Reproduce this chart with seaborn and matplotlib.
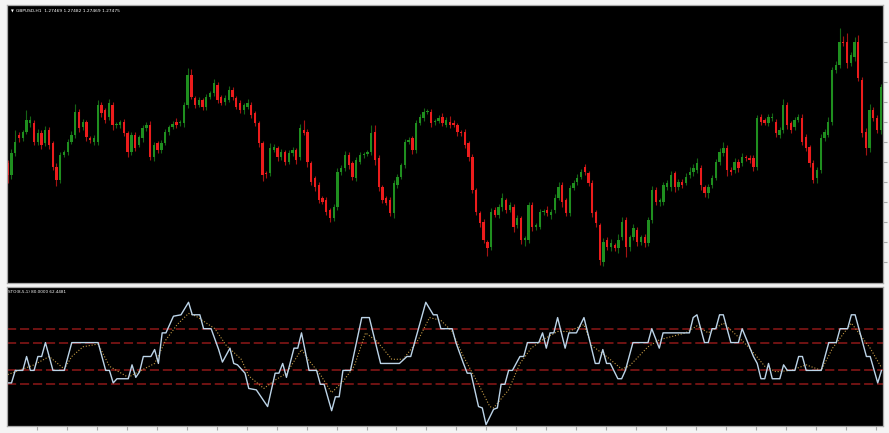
import numpy as np
import pandas as pd
import matplotlib
matplotlib.use("Agg")
import matplotlib.pyplot as plt
import seaborn as sns

# GBPUSD H1 candles, prices in points (1 point = 0.0001)
open_pts = [
    12717, 12705, 12727, 12745, 12742, 12748, 12757, 12757, 12738, 12747,
    12737, 12750, 12737, 12713, 12700, 12725, 12728, 12738, 12745, 12768,
    12753, 12758, 12742, 12738, 12738, 12775, 12770, 12763, 12775, 12755,
    12755, 12758, 12747, 12728, 12745, 12735, 12742, 12752, 12755, 12723,
    12737, 12730, 12737, 12748, 12753, 12758, 12757, 12757, 12775, 12805,
    12782, 12775, 12780, 12773, 12783, 12787, 12795, 12783, 12778, 12780,
    12790, 12782, 12777, 12770, 12773, 12775, 12767, 12757, 12737, 12707,
    12707, 12730, 12732, 12723, 12728, 12718, 12727, 12730, 12723, 12750,
    12748, 12717, 12702, 12695, 12682, 12680, 12670, 12662, 12673, 12708,
    12712, 12725, 12717, 12702, 12718, 12725, 12726, 12728, 12748, 12722,
    12693, 12682, 12680, 12667, 12695, 12703, 12715, 12738, 12742, 12730,
    12757, 12762, 12768, 12768, 12758, 12759, 12763, 12755, 12758, 12757,
    12755, 12748, 12748, 12737, 12723, 12690, 12667, 12658, 12638, 12633,
    12670, 12665, 12673, 12680, 12670, 12673, 12655, 12662, 12640, 12640,
    12675, 12653, 12653, 12668, 12670, 12665, 12670, 12682, 12695, 12680,
    12667, 12692, 12698, 12703, 12713, 12707, 12697, 12668, 12655, 12618,
    12640, 12633, 12635, 12632, 12643, 12660, 12633, 12643, 12650, 12638,
    12643, 12637, 12660, 12690, 12678, 12678, 12693, 12693, 12707, 12693,
    12698, 12697, 12705, 12708, 12710, 12712, 12693, 12687, 12695, 12702,
    12718, 12727, 12732, 12710, 12710, 12718, 12717, 12723, 12722, 12722,
    12713, 12763, 12760, 12757, 12762, 12758, 12745, 12750, 12775, 12757,
    12753, 12760, 12762, 12743, 12733, 12717, 12702, 12710, 12742, 12745,
    12758, 12810, 12815, 12838, 12838, 12817, 12823, 12838, 12800, 12748,
    12732, 12770, 12762, 12750,
]
close_pts = [
    12705, 12727, 12738, 12742, 12748, 12760, 12760, 12738, 12747, 12735,
    12750, 12735, 12713, 12700, 12725, 12728, 12738, 12745, 12768, 12752,
    12758, 12743, 12740, 12742, 12775, 12767, 12760, 12777, 12755, 12756,
    12758, 12747, 12728, 12745, 12732, 12743, 12752, 12755, 12723, 12735,
    12730, 12737, 12748, 12753, 12756, 12755, 12758, 12775, 12805, 12783,
    12775, 12780, 12773, 12783, 12787, 12797, 12780, 12777, 12782, 12790,
    12783, 12773, 12770, 12775, 12777, 12765, 12757, 12737, 12705, 12706,
    12732, 12733, 12723, 12728, 12718, 12727, 12730, 12720, 12752, 12747,
    12718, 12698, 12693, 12680, 12678, 12668, 12662, 12673, 12708, 12712,
    12725, 12715, 12703, 12720, 12725, 12726, 12728, 12747, 12720, 12693,
    12680, 12677, 12667, 12697, 12703, 12715, 12738, 12740, 12730, 12757,
    12763, 12768, 12769, 12757, 12759, 12762, 12757, 12760, 12755, 12755,
    12748, 12747, 12735, 12723, 12690, 12668, 12657, 12640, 12632, 12668,
    12665, 12673, 12682, 12670, 12675, 12653, 12662, 12640, 12642, 12675,
    12653, 12655, 12668, 12669, 12667, 12668, 12682, 12693, 12678, 12667,
    12692, 12697, 12702, 12708, 12708, 12697, 12667, 12657, 12620, 12638,
    12633, 12637, 12632, 12640, 12658, 12633, 12643, 12652, 12638, 12643,
    12637, 12660, 12690, 12678, 12680, 12695, 12697, 12705, 12693, 12698,
    12695, 12703, 12708, 12712, 12717, 12695, 12687, 12693, 12702, 12718,
    12728, 12732, 12710, 12708, 12718, 12712, 12723, 12722, 12720, 12713,
    12762, 12758, 12757, 12763, 12763, 12747, 12750, 12775, 12755, 12750,
    12760, 12763, 12738, 12732, 12717, 12700, 12710, 12742, 12748, 12758,
    12810, 12815, 12838, 12837, 12817, 12825, 12838, 12802, 12747, 12732,
    12770, 12762, 12750, 12793,
]
# wick lengths above / below the body, in points
upper_wick = [
    3, 4, 12, 3, 2, 10, 4, 3, 4, 3, 4, 3, 2, 4, 3, 2, 3, 4, 8, 3,
    3, 2, 2, 3, 5, 3, 2, 4, 3, 2, 2, 3, 2, 3, 3, 2, 3, 3, 4, 3,
    2, 3, 3, 2, 3, 4, 2, 3, 7, 6, 2, 3, 2, 3, 2, 4, 3, 2, 3, 4,
    3, 2, 3, 2, 4, 3, 2, 2, 2, 2, 5, 3, 2, 3, 2, 3, 3, 2, 4, 10,
    3, 2, 2, 3, 2, 3, 2, 3, 4, 3, 4, 3, 2, 3, 3, 2, 2, 8, 7, 3,
    2, 2, 3, 3, 3, 2, 3, 3, 2, 3, 3, 4, 2, 3, 2, 3, 4, 3, 6, 3,
    2, 2, 3, 2, 3, 2, 2, 3, 2, 4, 3, 3, 5, 2, 3, 3, 3, 2, 2, 3,
    3, 2, 3, 2, 4, 3, 4, 5, 3, 2, 3, 3, 4, 3, 3, 2, 3, 2, 2, 4,
    3, 4, 2, 6, 5, 3, 2, 4, 3, 2, 3, 3, 4, 3, 2, 3, 3, 4, 2, 3,
    3, 4, 5, 4, 5, 3, 2, 3, 3, 3, 4, 6, 3, 3, 4, 3, 4, 2, 3, 3,
    3, 3, 2, 3, 4, 3, 3, 6, 3, 2, 3, 3, 4, 3, 2, 3, 3, 4, 3, 5,
    3, 4, 14, 6, 9, 3, 5, 7, 3, 4, 6, 3, 3, 3,
]
lower_wick = [
    8, 4, 3, 4, 3, 2, 4, 3, 3, 4, 3, 4, 3, 6, 3, 2, 3, 2, 3, 4,
    3, 4, 3, 3, 3, 4, 3, 3, 5, 3, 3, 3, 5, 3, 3, 2, 4, 3, 3, 4,
    3, 3, 2, 3, 2, 3, 3, 4, 3, 2, 3, 2, 3, 3, 2, 3, 3, 2, 3, 2,
    3, 2, 3, 4, 2, 3, 3, 4, 6, 4, 3, 2, 4, 3, 3, 2, 3, 4, 3, 2,
    5, 3, 4, 3, 2, 3, 4, 3, 3, 3, 3, 4, 3, 3, 2, 3, 2, 3, 5, 4,
    3, 2, 3, 5, 3, 2, 3, 2, 4, 3, 2, 3, 2, 4, 3, 2, 3, 2, 3, 2,
    4, 3, 3, 4, 3, 3, 4, 3, 8, 3, 2, 3, 4, 3, 2, 5, 3, 4, 6, 3,
    4, 3, 2, 3, 3, 4, 3, 2, 5, 3, 3, 2, 3, 2, 3, 3, 4, 4, 5, 4,
    3, 4, 3, 5, 3, 10, 4, 3, 4, 3, 4, 3, 3, 3, 4, 3, 3, 4, 5, 3,
    3, 2, 3, 4, 3, 5, 4, 5, 3, 2, 3, 3, 6, 3, 3, 4, 3, 3, 3, 4,
    3, 3, 2, 3, 3, 4, 3, 3, 4, 3, 3, 2, 3, 3, 4, 3, 5, 3, 3, 2,
    3, 3, 3, 3, 5, 3, 4, 3, 4, 7, 4, 3, 3, 4,
]

# stochastic main line (%K) vertices: bar index, value
k_bar = [0, 1, 2, 4, 5, 6, 7, 8, 9, 10, 12, 15, 17, 24, 26, 27, 28, 29, 32, 33,
         34, 35, 36, 38, 39, 40, 41, 42, 44, 46, 48, 49, 51, 52, 54, 56, 57, 59, 60, 61,
         63, 64, 66, 67, 69, 71, 72, 73, 74, 76, 77, 78, 80, 82, 83, 84, 86, 87, 88, 89,
         91, 94, 96, 99, 104, 106, 107, 111, 113, 114, 115, 118, 119, 121, 122, 123, 125, 126, 127, 129,
         130, 131, 132, 133, 134, 136, 137, 138, 141, 142, 143, 144, 145, 146, 148, 149, 151, 153, 156, 157,
         158, 159, 160, 162, 163, 164, 166, 170, 171, 173, 174, 181, 182, 183, 185, 186, 187, 188, 189, 190,
         192, 194, 195, 198, 199, 200, 201, 202, 203, 205, 206, 207, 209, 210, 211, 212, 216, 218, 220, 221,
         223, 224, 225, 228, 229, 231, 232]
k_val = [31, 31, 40, 40, 50, 40, 40, 50, 50, 60, 40, 40, 60, 60, 40, 40, 31, 34, 34, 44,
         35, 39, 50, 50, 55, 45, 67, 67, 79, 80, 89, 80, 80, 70, 70, 55, 46, 56, 45, 44,
         38, 27, 26, 22, 14, 38, 38, 45, 35, 56, 56, 67, 40, 40, 30, 30, 11, 21, 21, 40,
         40, 78, 78, 45, 45, 50, 50, 89, 80, 80, 70, 70, 60, 45, 38, 38, 14, 13, 1, 12,
         13, 30, 30, 40, 40, 50, 50, 60, 60, 67, 56, 67, 67, 78, 56, 67, 67, 78, 45, 45,
         55, 45, 45, 34, 34, 40, 60, 60, 70, 56, 67, 67, 78, 80, 60, 60, 70, 70, 80, 80,
         60, 60, 70, 50, 45, 34, 34, 45, 34, 34, 44, 40, 40, 50, 50, 40, 40, 60, 60, 70,
         70, 80, 80, 50, 50, 31, 40]
# signal line (%D) vertices
d_bar = [0, 3, 7, 11, 15, 17, 20, 24, 27, 32, 34, 39, 42, 45, 48, 50, 55, 58, 62, 64,
         68, 71, 74, 78, 80, 83, 86, 89, 92, 95, 98, 102, 105, 109, 112, 115, 118, 121, 125, 128,
         129, 133, 136, 139, 142, 146, 149, 153, 155, 159, 163, 165, 170, 173, 180, 183, 186, 190, 194, 197,
         201, 204, 208, 212, 216, 219, 224, 229, 232]
d_val = [37, 40, 44, 50, 41, 50, 57, 59, 43, 35, 38, 45, 62, 73, 81, 79, 70, 58, 48, 36,
         27, 33, 38, 55, 47, 37, 24, 32, 43, 67, 61, 48, 48, 62, 78, 76, 68, 50, 30, 14,
         13, 26, 45, 56, 62, 68, 68, 73, 58, 50, 41, 43, 57, 62, 67, 72, 67, 74, 64, 56,
         43, 39, 40, 44, 40, 56, 74, 56, 42]
levels = [30, 40, 60, 70]

header_text = "GBPUSD,H1  1.27469 1.27482 1.27469 1.27475"
stoch_text = "STO(8,5,1) 80.0000 62.4481"

bars = pd.DataFrame({"open": open_pts, "close": close_pts,
                     "up": upper_wick, "dn": lower_wick}) / 10000.0
bars["bar"] = np.arange(len(bars))
bars["high"] = bars[["open", "close"]].max(axis=1) + bars["up"]
bars["low"] = bars[["open", "close"]].min(axis=1) - bars["dn"]
bars["bull"] = bars["close"] >= bars["open"]

sns.set_theme(style="dark")
plt.rcParams["font.family"] = ["DejaVu Sans"]

green = "#1f8f1f"
red = "#ec1c1c"
edge = "#a8a8a8"

fig = plt.figure(figsize=(8.89, 4.33), dpi=100, facecolor="#f4f4f4")
ax1 = fig.add_axes([7 / 889, 150 / 433, 876 / 889, 278 / 433])
ax2 = fig.add_axes([7 / 889, 7 / 433, 876 / 889, 139 / 433])

# price panel
ax1.set_facecolor("black")
cols = np.where(bars["bull"], green, red)
ax1.vlines(bars["bar"], bars["low"], bars["high"], colors=cols, linewidth=0.8, alpha=0.7)
body_bottom = bars[["open", "close"]].min(axis=1)
body_height = (bars["close"] - bars["open"]).abs().clip(lower=0.00008)
ax1.bar(bars["bar"], body_height, bottom=body_bottom, width=0.62, color=cols, linewidth=0)
ax1.set_xlim(-0.2, 233.6)
ax1.set_ylim(1.2597, 1.2875)
ax1.yaxis.tick_right()
ax1.set_yticks(np.arange(1.2618, 1.2850, 0.0020))
ax1.set_yticklabels([])
ax1.set_xticks([])
ax1.tick_params(axis="y", direction="out", length=3, width=0.8, color=edge, right=True)
ax1.text(0.004, 0.978, "\u25bc", transform=ax1.transAxes, color="white",
         fontsize=2.6, va="center", ha="left")
ax1.text(0.010, 0.978, header_text, transform=ax1.transAxes, color="white",
         fontsize=3.2, va="center", ha="left")

# stochastic panel
ax2.set_facecolor("black")
for lv in levels:
    ax2.axhline(lv, color="#8e1818", linewidth=1.1, dashes=(6, 2.5))
sns.lineplot(x=d_bar, y=d_val, ax=ax2, color="#c49a45", linewidth=0.8,
             linestyle=":", estimator=None, sort=False)
sns.lineplot(x=k_bar, y=k_val, ax=ax2, color="#bcd4e8", linewidth=1.0,
             estimator=None, sort=False)
ax2.set_xlim(-0.2, 232.4)
ax2.set_ylim(0, 100)
ax2.set_yticks([])
ax2.set_xticks(np.arange(7.7, 233, 7.96))
ax2.set_xticklabels([])
ax2.tick_params(axis="x", direction="out", length=3, width=0.8, color=edge, bottom=True)
ax2.set_xlabel("")
ax2.set_ylabel("")
ax2.text(0.001, 0.965, stoch_text, transform=ax2.transAxes, color="white",
         fontsize=3.0, va="center", ha="left")

for ax in (ax1, ax2):
    for sp in ax.spines.values():
        sp.set_visible(True)
        sp.set_color(edge)
        sp.set_linewidth(0.9)

fig.savefig("out.png", dpi=100, facecolor=fig.get_facecolor())
